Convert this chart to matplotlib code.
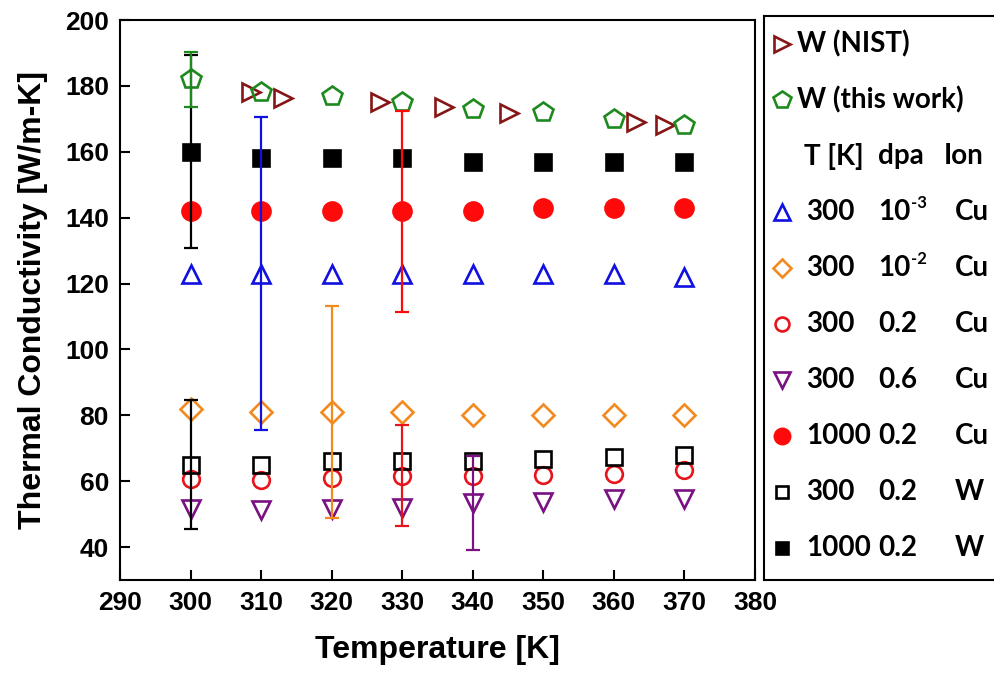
import numpy as np
import matplotlib
matplotlib.use("Agg")
import matplotlib.pyplot as plt

# Temperaturen der Messpunkte
temps = [300, 310, 320, 330, 340, 350, 360, 370]

# Referenzwerte W (NIST)
nist_T = [308.5, 313.1, 326.8, 335.9, 345.1, 363.1, 367.3]
nist_k = [178.1, 176.3, 175.1, 173.5, 171.7, 169.0, 168.1]

# Waermeleitfaehigkeit [W/m-K]
w_this = [182, 178, 177, 175, 173, 172, 170, 168]
cu_300_1e3 = [123, 123, 123, 123, 123, 123, 123, 122]
cu_300_1e2 = [82, 81, 81, 81, 80, 80, 80, 80]
cu_300_02 = [60.6, 60.5, 61, 61.7, 61.6, 61.8, 62.3, 63.3]
cu_300_06 = [51.5, 51.3, 51.5, 51.8, 53.3, 53.8, 54.5, 54.5]
cu_1000_02 = [142, 142, 142, 142, 142, 143, 143, 143]
w_300_02 = [65, 65, 66, 66, 66.2, 66.7, 67.4, 68]
w_1000_02 = [160, 158, 158, 158, 157, 157, 157, 157]

# je Serie ein Fehlerbalken: (Temperatur, +/-)
err_w_this = (300, 8.3)
err_cu_300_1e3 = (310, 47.5)
err_cu_300_1e2 = (320, 32.3)
err_cu_300_02 = (330, 15.3)
err_cu_300_06 = (340, 14.3)
err_cu_1000_02 = (330, 30.5)
err_w_300_02 = (300, 19.6)
err_w_1000_02 = (300, 29.3)

# Legendenspalten (dpa als Basis + Exponent)
leg_T = ["300", "300", "300", "300", "1000", "300", "1000"]
leg_dpa = ["10", "10", "0.2", "0.6", "0.2", "0.2", "0.2"]
leg_exp = ["-3", "-2", "", "", "", "", ""]
leg_ion = ["Cu", "Cu", "Cu", "Cu", "Cu", "W", "W"]

plt.rcParams["font.family"] = ["Liberation Sans", "DejaVu Sans"]
plt.rcParams["font.weight"] = "bold"

fig = plt.figure(figsize=(9.94, 6.81), dpi=100)
ax = fig.add_axes([120 / 994, 1 - 580 / 681, 635 / 994, 560 / 681])

mew = 1.9
styles = [
    # (x, y, err, marker, color, size, filled)
    (temps, cu_300_1e3, err_cu_300_1e3, "^", "#1010e0", 13, False),
    (temps, cu_300_1e2, err_cu_300_1e2, "D", "#f28a1e", 11, False),
    (temps, cu_300_02, err_cu_300_02, "o", "#e8141c", 12, False),
    (temps, cu_300_06, err_cu_300_06, "v", "#7a1183", 13, False),
    (temps, cu_1000_02, err_cu_1000_02, "o", "#ff0a0a", 13, True),
    (temps, w_300_02, err_w_300_02, "s", "black", 11, False),
    (temps, w_1000_02, err_w_1000_02, "s", "black", 11, True),
    (temps, w_this, err_w_this, "p", "#1e8a1e", 15, False),
]

ax.plot(nist_T, nist_k, ls="none", marker=">", ms=13, mfc="none",
        mec="#861616", mew=mew, zorder=3)

for x, y, err, m, c, s, filled in styles:
    ax.plot(x, y, ls="none", marker=m, ms=s, mfc=c if filled else "none",
            mec=c, mew=mew, zorder=3)

for x, y, err, m, c, s, filled in styles:
    t, e = err
    yv = y[x.index(t)]
    ax.errorbar([t], [yv], yerr=[e], fmt="none", ecolor=c, elinewidth=1.6,
                capsize=5, capthick=1.6, zorder=4)

ax.set_xlim(290, 380)
ax.set_ylim(30, 200)
ax.set_xticks(np.arange(290, 381, 10))
ax.set_yticks(np.arange(40, 201, 20))
ax.tick_params(direction="in", length=7, width=1.5, labelsize=19, pad=8)
for sp in ax.spines.values():
    sp.set_linewidth(1.5)
ax.set_xlabel("Temperature [K]", fontsize=23, fontweight="bold", labelpad=14)
ax.set_ylabel("Thermal Conductivity [W/m-K]", fontsize=23, fontweight="bold", labelpad=12)

# Legende als eigener Kasten rechts
lg = fig.add_axes([764 / 994, 1 - 580 / 681, 236 / 994, 564 / 681])
lg.set_xlim(764, 1000)
lg.set_ylim(9.57, -0.5)
lg.set_xticks([])
lg.set_yticks([])
for sp in lg.spines.values():
    sp.set_linewidth(1.5)
lg.spines["right"].set_visible(False)

lfont = dict(fontsize=20, fontweight="bold", family=["Lato", "DejaVu Sans"],
             va="center", ha="left")
lg.plot([782], [0], ls="none", marker=">", ms=12, mfc="none", mec="#861616", mew=mew)
lg.text(797, 0, "W (NIST)", **lfont)
lg.plot([782], [1], ls="none", marker="p", ms=13, mfc="none", mec="#1e8a1e", mew=mew)
lg.text(797, 1, "W (this work)", **lfont)
lg.text(804, 2, "T [K]", **lfont)
lg.text(878, 2, "dpa", **lfont)
lg.text(944, 2, "Ion", **lfont)

for i in range(len(leg_T)):
    x, y, err, m, c, s, filled = styles[i]
    row = 3 + i
    lg.plot([782], [row], ls="none", marker=m, ms=s - 2, mfc=c if filled else "none",
            mec=c, mew=mew)
    lg.text(806, row, leg_T[i], **lfont)
    lg.text(878, row, leg_dpa[i], **lfont)
    if leg_exp[i]:
        lg.text(911, row - 0.17, leg_exp[i], fontsize=12, fontweight="bold",
                family=["Lato", "DejaVu Sans"], va="center", ha="left")
    lg.text(955, row, leg_ion[i], **lfont)

fig.savefig("out.png", dpi=100)
